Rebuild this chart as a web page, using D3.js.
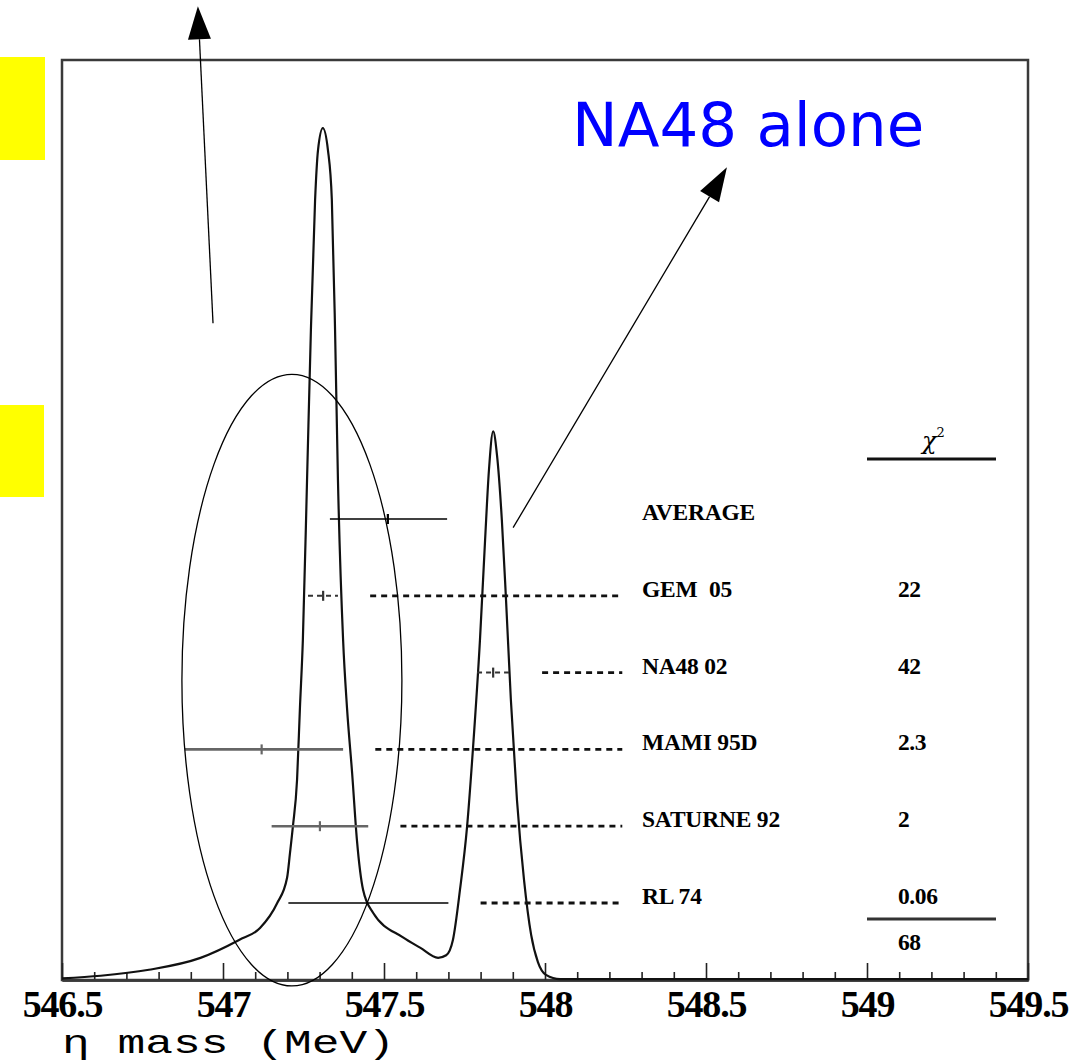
<!DOCTYPE html>
<html>
<head>
<meta charset="utf-8">
<script src="https://cdn.jsdelivr.net/npm/d3@7"></script>
<style>
  html, body { margin: 0; padding: 0; background: #fff; }
  svg { display: block; }
  .lbl { font-family: "Liberation Serif", "DejaVu Serif", serif; font-weight: bold; white-space: pre; }
</style>
</head>
<body>
<svg id="chart" width="1079" height="1064"></svg>
<script>
// ---------- data ----------
const curveMass = [546.50, 546.62, 546.77, 546.93, 547.05, 547.115, 547.168, 547.199, 547.208, 547.217,
  547.230, 547.239, 547.248, 547.261, 547.273, 547.286, 547.295, 547.310, 547.326, 547.338,
  547.348, 547.357, 547.373, 547.385, 547.401, 547.416, 547.435, 547.466, 547.559, 547.612,
  547.668, 547.693, 547.714, 547.736, 547.758, 547.776, 547.798, 547.814, 547.826, 547.839,
  547.851, 547.866, 547.879, 547.894, 547.913, 547.935, 547.957, 547.978, 548.003, 548.047, 549.50];
const curveValue = [0.002, 0.005, 0.012, 0.026, 0.047, 0.061, 0.090, 0.120, 0.149, 0.180,
  0.235, 0.320, 0.399, 0.587, 0.763, 0.916, 0.974, 1.000, 0.974, 0.916,
  0.763, 0.587, 0.399, 0.320, 0.243, 0.164, 0.106, 0.079, 0.050, 0.038,
  0.026, 0.029, 0.047, 0.106, 0.180, 0.270, 0.399, 0.517, 0.599, 0.644,
  0.616, 0.540, 0.446, 0.329, 0.211, 0.117, 0.053, 0.021, 0.006, 0.001, 0.001];

const experiments = ["AVERAGE", "GEM  05", "NA48 02", "MAMI 95D", "SATURNE 92", "RL 74"];
const centers     = [547.512, 547.311, 547.839, 547.120, 547.301, 547.450];
const lows        = [547.332, 547.264, 547.789, 546.882, 547.151, 547.203];
const highs       = [547.696, 547.357, 547.891, 547.373, 547.451, 547.700];
const chi2        = ["", "22", "42", "2.3", "2", "0.06"];
const chi2Total   = "68";
const majorTicks  = [546.5, 547, 547.5, 548, 548.5, 549, 549.5];
const tickLabels  = ["546.5", "547", "547.5", "548", "548.5", "549", "549.5"];
const xTitle      = "\u03b7 mass (MeV)";
const noteText    = "NA48 alone";

// ---------- layout ----------
const L = 62, R = 1028, T = 60, B = 980;
const svg = d3.select("#chart");
const x = d3.scaleLinear().domain([546.5, 549.5]).range([L, R]);
const y = d3.scaleLinear().domain([0, 1.08]).range([B, T]);
const row = d3.scalePoint().domain(experiments).range([519, 903]);

// yellow side markers
svg.append("rect").attr("x", 0).attr("y", 57).attr("width", 45).attr("height", 103).attr("fill", "#ffff00");
svg.append("rect").attr("x", 0).attr("y", 405).attr("width", 44).attr("height", 92).attr("fill", "#ffff00");

// frame
svg.append("rect").attr("x", L).attr("y", T).attr("width", R - L).attr("height", B - T)
  .attr("fill", "none").attr("stroke", "#3a3a3a").attr("stroke-width", 2.5);

// axis ticks
const minorTicks = d3.range(5465, 5496, 1).map(d => d / 10).filter(d => !majorTicks.includes(d));
const gMinor = svg.append("g").attr("transform", `translate(0,${B})`)
  .call(d3.axisBottom(x).tickValues(minorTicks).tickSize(-8).tickSizeOuter(0).tickFormat(""));
const gMajor = svg.append("g").attr("transform", `translate(0,${B})`)
  .call(d3.axisBottom(x).tickValues(majorTicks).tickSize(-17).tickSizeOuter(0)
    .tickFormat((d, i) => tickLabels[i]).tickPadding(10));
[gMinor, gMajor].forEach(g => {
  g.select(".domain").attr("stroke", "#3a3a3a").attr("stroke-width", 2.5);
  g.selectAll(".tick line").attr("stroke", "#222").attr("stroke-width", 1.6);
});
gMajor.selectAll(".tick text")
  .attr("font-family", "'Liberation Serif', 'DejaVu Serif', serif")
  .attr("font-weight", "bold").attr("font-size", 38).attr("fill", "#000")
  .attr("dy", "0.71em").attr("letter-spacing", -1.2);

// x title
svg.append("text").attr("x", L).attr("y", 1053)
  .attr("font-family", "'Liberation Mono', 'DejaVu Sans Mono', monospace")
  .attr("font-size", 34).attr("fill", "#000")
  .attr("textLength", 333).attr("lengthAdjust", "spacingAndGlyphs")
  .text(xTitle);

// likelihood curve
const line = d3.line().x(d => x(d[0])).y(d => y(d[1])).curve(d3.curveMonotoneX);
svg.append("path").datum(curveMass.map((m, i) => [m, curveValue[i]]))
  .attr("d", line).attr("fill", "none").attr("stroke", "#111").attr("stroke-width", 2.2)
  .attr("stroke-linejoin", "round");

// error bars
const styles = [
  {stroke: "#000", w: 1.6, dash: null},
  {stroke: "#333", w: 2, dash: "5,4"},
  {stroke: "#333", w: 2, dash: "5,4"},
  {stroke: "#666", w: 2.6, dash: null},
  {stroke: "#666", w: 2.6, dash: null},
  {stroke: "#000", w: 1.6, dash: null}
];
experiments.forEach((e, i) => {
  const yy = row(e), s = styles[i];
  svg.append("line").attr("x1", x(lows[i])).attr("x2", x(highs[i])).attr("y1", yy).attr("y2", yy)
    .attr("stroke", s.stroke).attr("stroke-width", s.w).attr("stroke-dasharray", s.dash);
  if (i !== 5) {
    svg.append("line").attr("x1", x(centers[i])).attr("x2", x(centers[i])).attr("y1", yy - 5).attr("y2", yy + 5)
      .attr("stroke", s.stroke).attr("stroke-width", 2.2);
  }
  if (i > 0) {
    svg.append("line").attr("x1", x(highs[i] + 0.1)).attr("x2", x(548.24)).attr("y1", yy).attr("y2", yy)
      .attr("stroke", "#111").attr("stroke-width", 2.8).attr("stroke-dasharray", "6,5");
  }
  svg.append("text").attr("class", "lbl").attr("x", 642).attr("y", yy + 1)
    .attr("font-size", 23.5).attr("letter-spacing", -0.2).text(e);
  if (chi2[i]) {
    svg.append("text").attr("class", "lbl").attr("x", 898).attr("y", yy + 1)
      .attr("font-size", 23.5).attr("letter-spacing", -0.4).text(chi2[i]);
  }
});

// chi2 header and total
svg.append("line").attr("x1", 867).attr("x2", 996).attr("y1", 459).attr("y2", 459)
  .attr("stroke", "#111").attr("stroke-width", 3);
const chiT = svg.append("text").attr("x", 922).attr("y", 449)
  .attr("font-family", "'DejaVu Serif', serif").attr("font-style", "italic").attr("font-size", 24);
chiT.append("tspan").text("\u03c7");
chiT.append("tspan").attr("dy", -12).attr("font-size", 13).attr("font-style", "normal").text("2");
svg.append("line").attr("x1", 867).attr("x2", 996).attr("y1", 919).attr("y2", 919)
  .attr("stroke", "#333").attr("stroke-width", 3);
svg.append("text").attr("class", "lbl").attr("x", 898).attr("y", 950)
  .attr("font-size", 23.5).attr("letter-spacing", -0.4).text(chi2Total);

// ellipse annotation
svg.append("ellipse").attr("cx", x(547.214)).attr("cy", y(0.352))
  .attr("rx", x(547.214 + 0.3416) - x(547.214)).attr("ry", y(0) - y(0.359))
  .attr("fill", "none").attr("stroke", "#000").attr("stroke-width", 1.3);

// arrows
function arrow(m0, v0, m1, v1, headLen, headHalf) {
  const x0 = x(m0), y0 = y(v0), x1 = x(m1), y1 = y(v1);
  const dx = x1 - x0, dy = y1 - y0, len = Math.hypot(dx, dy);
  const ux = dx / len, uy = dy / len;
  const bx = x1 - ux * headLen, by = y1 - uy * headLen;
  svg.append("line").attr("x1", x0).attr("y1", y0).attr("x2", bx).attr("y2", by)
    .attr("stroke", "#000").attr("stroke-width", 1.3);
  svg.append("path").attr("d", `M${x1},${y1}L${bx - uy * headHalf},${by + ux * headHalf}L${bx + uy * headHalf},${by - ux * headHalf}Z`)
    .attr("fill", "#000");
}
arrow(546.969, 0.771, 546.922, 1.143, 33, 11.5);
arrow(547.901, 0.531, 548.565, 0.954, 34, 11);

// NA48 alone note
svg.append("text").attr("x", x(548.084)).attr("y", y(0.979))
  .attr("font-family", "'DejaVu Sans', sans-serif").attr("font-size", 61).attr("fill", "#0000ff")
  .text(noteText);
</script>
</body>
</html>
